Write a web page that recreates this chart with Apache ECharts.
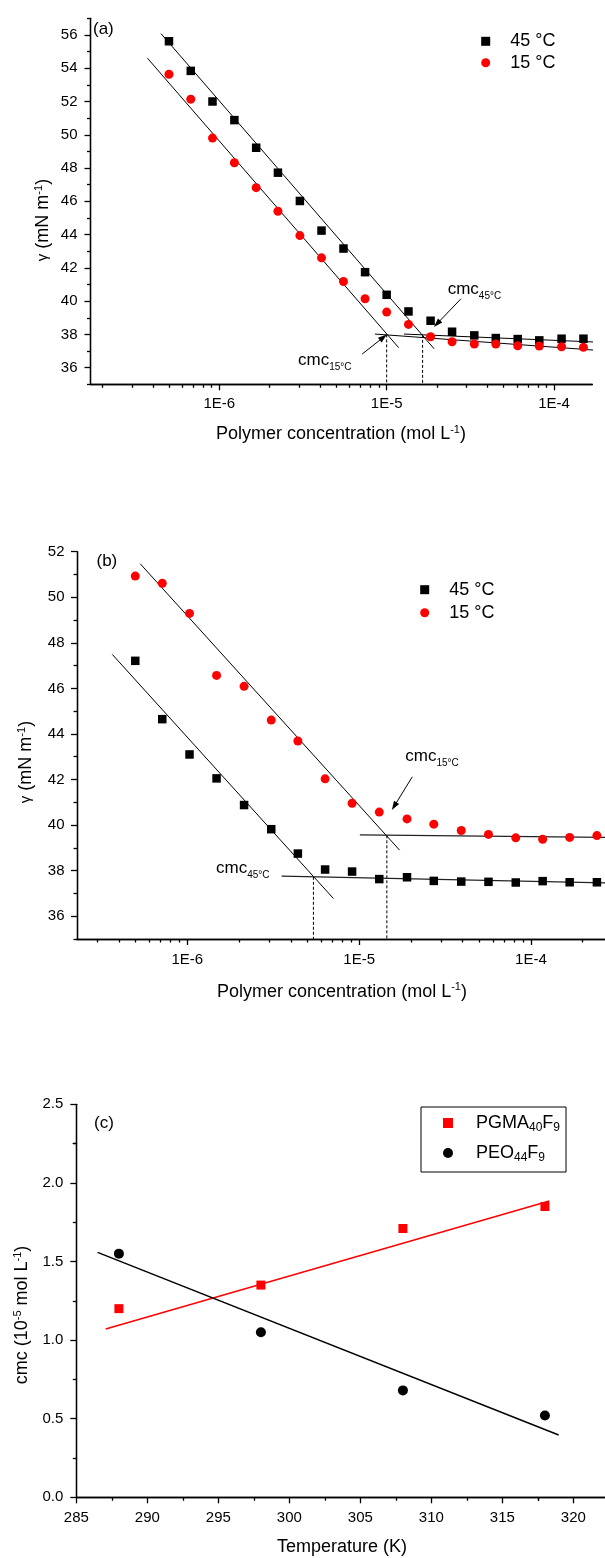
<!DOCTYPE html>
<html>
<head>
<meta charset="utf-8">
<script src="https://cdn.jsdelivr.net/npm/echarts@6/dist/echarts.min.js"></script>
<style>
  html, body { margin: 0; padding: 0; background: #fff; }
  #chart { width: 605px; height: 1558px; }
</style>
</head>
<body>
<div id="chart"></div>
<script>
// ---- (a) surface tension vs polymer concentration ----
const concA = [5.0e-7, 6.75e-7, 9.1e-7, 1.23e-6, 1.66e-6, 2.24e-6, 3.03e-6, 4.08e-6, 5.52e-6, 7.43e-6,
               1.0e-5, 1.35e-5, 1.83e-5, 2.46e-5, 3.34e-5, 4.49e-5, 6.07e-5, 8.17e-5, 1.11e-4, 1.5e-4];
const gamma45A = [55.62, 53.84, 52.0, 50.88, 49.22, 47.72, 46.02, 44.24, 43.16, 41.74,
                  40.38, 39.38, 38.82, 38.16, 37.94, 37.78, 37.72, 37.64, 37.74, 37.74];
const gamma15A = [53.64, 52.14, 49.8, 48.32, 46.82, 45.4, 43.94, 42.6, 41.18, 40.14,
                  39.34, 38.6, 37.86, 37.56, 37.42, 37.42, 37.32, 37.3, 37.26, 37.22];
// straight-line fits: [[conc, gamma], [conc, gamma]]
const fitSteep45A = [[4.48e-7, 56.08], [1.92e-5, 37.14]];
const fitSteep15A = [[3.72e-7, 54.6], [1.18e-5, 37.2]];
const fitFlat45A = [[1.27e-5, 38.02], [1.77e-4, 37.54]];
const fitFlat15A = [[8.51e-6, 38.02], [1.82e-4, 37.04]];
// cmc read-outs: [conc, gamma at the break]
const cmc15A = [1.0e-5, 38.0];
const cmc45A = [1.64e-5, 37.97];

// ---- (b) ----
const concB = [4.98e-7, 7.15e-7, 1.03e-6, 1.48e-6, 2.14e-6, 3.08e-6, 4.4e-6, 6.34e-6, 9.1e-6,
               1.31e-5, 1.9e-5, 2.72e-5, 3.93e-5, 5.66e-5, 8.16e-5, 1.17e-4, 1.68e-4, 2.42e-4];
const gamma45B = [47.21, 44.65, 43.1, 42.05, 40.88, 39.82, 38.75, 38.05, 37.96,
                  37.63, 37.71, 37.55, 37.52, 37.51, 37.48, 37.54, 37.49, 37.49];
const gamma15B = [50.93, 50.61, 49.29, 46.57, 46.09, 44.61, 43.69, 42.03, 40.96,
                  40.57, 40.27, 40.04, 39.76, 39.59, 39.44, 39.38, 39.46, 39.54];
const fitSteep15B = [[5.32e-7, 51.47], [1.72e-5, 38.9]];
const fitSteep45B = [[3.66e-7, 47.49], [7.08e-6, 36.78]];
const fitFlat15B = [[1.01e-5, 39.57], [2.7e-4, 39.46]];
const fitFlat45B = [[3.54e-6, 37.76], [2.7e-4, 37.46]];
const cmc45B = [5.42e-6, 37.73];
const cmc15B = [1.45e-5, 39.55];

// ---- (c) cmc vs temperature ----
const tempC = [288, 298, 308, 318];
const cmcPGMA = [1.20, 1.35, 1.71, 1.85];
const cmcPEO = [1.55, 1.05, 0.68, 0.52];
const fitPGMA = [[287.07, 1.071], [318.31, 1.885]];
const fitPEO = [[286.5, 1.558], [318.97, 0.396]];

// ---- tick labels ----
const decadeExps = [-6, -5, -4];            // 1E-6, 1E-5, 1E-4
const yTicksA = [36, 38, 40, 42, 44, 46, 48, 50, 52, 54, 56];
const yTicksB = [36, 38, 40, 42, 44, 46, 48, 50, 52];
const xTicksC = [285, 290, 295, 300, 305, 310, 315, 320];
const yTicksC = [0, 0.5, 1.0, 1.5, 2.0, 2.5];

const FONT = '"Liberation Sans", Arial, Helvetica, sans-serif';
const lg = Math.log10;

// axis extents (log10 of concentration on panels a and b)
const xRangeA = [-6.77, -3.771];
const xRangeB = [-6.642, -3.569];

function logMinor(lo, hi) {
  const out = [];
  for (let d = -8; d <= -3; d++) {
    for (let k = 2; k <= 9; k++) {
      const v = d + Math.log10(k);
      if (v >= lo && v <= hi) out.push(v);
    }
  }
  return out;
}
function between(list, step) {
  const out = [];
  for (let i = 0; i < list.length; i++) {
    out.push(list[i] - step);
  }
  out.push(list[list.length - 1] + step);
  return out;
}

const axisLineStyle = { color: '#000', width: 1.3 };
const labelStyle = { color: '#000', fontSize: 15, fontFamily: FONT };

function axisPair(kind, grid, min, max, majors, minors, fmt, margin) {
  const pos = kind === 'x' ? 'bottom' : 'left';
  const major = {
    type: 'value', gridIndex: grid, position: pos, min: min, max: max,
    axisLine: { show: true, onZero: false, lineStyle: axisLineStyle },
    axisTick: { show: true, inside: false, length: 6, customValues: majors, lineStyle: axisLineStyle },
    axisLabel: Object.assign({ show: true, customValues: majors, formatter: fmt, margin: margin }, labelStyle),
    splitLine: { show: false }, minorTick: { show: false }
  };
  const minor = {
    type: 'value', gridIndex: grid, position: pos, min: min, max: max,
    axisLine: { show: true, onZero: false, lineStyle: axisLineStyle },
    axisTick: { show: true, inside: false, length: 3.5, customValues: minors, lineStyle: axisLineStyle },
    axisLabel: { show: false },
    splitLine: { show: false }, minorTick: { show: false }
  };
  return [major, minor];
}

const fmtDecade = v => '1E' + Math.round(v);
const fmtInt = v => String(Math.round(v));
const fmtOne = v => v.toFixed(1);

const xAxes = [].concat(
  axisPair('x', 0, xRangeA[0], xRangeA[1], decadeExps, logMinor(xRangeA[0], xRangeA[1]), fmtDecade, 12),
  axisPair('x', 1, xRangeB[0], xRangeB[1], decadeExps, logMinor(xRangeB[0], xRangeB[1]), fmtDecade, 13),
  axisPair('x', 2, 285, 322.23, xTicksC, between(xTicksC, -2.5).filter(v => v > 285 && v < 322.2), fmtInt, 13)
);
const yAxes = [].concat(
  axisPair('y', 0, 35, 57, yTicksA, between(yTicksA, 1), fmtInt, 13),
  axisPair('y', 1, 35, 52, yTicksB, between(yTicksB, 1).filter(v => v <= 52), fmtInt, 12.5),
  axisPair('y', 2, 0, 2.5, yTicksC, between(yTicksC, -0.25).filter(v => v > 0 && v < 2.5), fmtOne, 13)
);

function logPts(pts) { return pts.map(p => [lg(p[0]), p[1]]); }
function fitLine(grid, pts, color, width, isLog) {
  return {
    type: 'line', xAxisIndex: grid * 2, yAxisIndex: grid * 2,
    data: isLog ? logPts(pts) : pts, symbol: 'none', clip: false, silent: true, z: 1,
    lineStyle: { color: color, width: width }
  };
}
function dropLine(grid, cmc, yMin) {
  return {
    type: 'line', xAxisIndex: grid * 2, yAxisIndex: grid * 2,
    data: [[lg(cmc[0]), cmc[1]], [lg(cmc[0]), yMin]], symbol: 'none', silent: true, z: 1,
    lineStyle: { color: '#000', width: 1, type: [3, 2] }
  };
}
function arrows(list) {
  return {
    silent: true, symbol: ['none', 'triangle'], symbolSize: [6, 9],
    label: { show: false },
    lineStyle: { color: '#000', width: 1, type: 'solid', opacity: 1 },
    itemStyle: { color: '#000', opacity: 1 },
    data: list.map(a => [{ coord: [lg(a[0][0]), a[0][1]] }, { coord: [lg(a[1][0]), a[1][1]] }])
  };
}

const squareStyle = { color: '#000', opacity: 1 };
const circleStyle = { color: '#ff0000', opacity: 1 };

const series = [
  // (a)
  fitLine(0, fitSteep45A, '#000', 1, true),
  fitLine(0, fitSteep15A, '#000', 1, true),
  fitLine(0, fitFlat45A, '#000', 1, true),
  fitLine(0, fitFlat15A, '#000', 1, true),
  dropLine(0, cmc15A, 35),
  dropLine(0, cmc45A, 35),
  {
    name: '45 °C', type: 'scatter', xAxisIndex: 0, yAxisIndex: 0, symbol: 'rect', symbolSize: 8.5,
    itemStyle: squareStyle, z: 3,
    data: concA.map((c, i) => [lg(c), gamma45A[i]]),
    markLine: arrows([
      [[2.78e-5, 40.14], [2.0e-5, 38.64]],
      [[7.14e-6, 36.82], [9.55e-6, 37.82]]
    ])
  },
  {
    name: '15 °C', type: 'scatter', xAxisIndex: 0, yAxisIndex: 0, symbol: 'circle', symbolSize: 9,
    itemStyle: circleStyle, z: 3,
    data: concA.map((c, i) => [lg(c), gamma15A[i]])
  },
  // (b)
  fitLine(1, fitSteep15B, '#000', 1, true),
  fitLine(1, fitSteep45B, '#000', 1, true),
  fitLine(1, fitFlat15B, '#222', 1.2, true),
  fitLine(1, fitFlat45B, '#222', 1.2, true),
  dropLine(1, cmc45B, 35),
  dropLine(1, cmc15B, 35),
  {
    name: '45 °C', type: 'scatter', xAxisIndex: 2, yAxisIndex: 2, symbol: 'rect', symbolSize: 8.5,
    itemStyle: squareStyle, z: 3,
    data: concB.map((c, i) => [lg(c), gamma45B[i]]),
    markLine: arrows([
      [[2.04e-5, 42.12], [1.6e-5, 40.83]]
    ])
  },
  {
    name: '15 °C', type: 'scatter', xAxisIndex: 2, yAxisIndex: 2, symbol: 'circle', symbolSize: 9,
    itemStyle: circleStyle, z: 3,
    data: concB.map((c, i) => [lg(c), gamma15B[i]])
  },
  // (c)
  fitLine(2, fitPGMA, '#ff0000', 1.5, false),
  fitLine(2, fitPEO, '#000', 1.5, false),
  {
    name: 'PGMA40F9', type: 'scatter', xAxisIndex: 4, yAxisIndex: 4, symbol: 'rect', symbolSize: 9,
    itemStyle: { color: '#ff0000', opacity: 1 }, z: 3,
    data: tempC.map((t, i) => [t, cmcPGMA[i]])
  },
  {
    name: 'PEO44F9', type: 'scatter', xAxisIndex: 4, yAxisIndex: 4, symbol: 'circle', symbolSize: 10,
    itemStyle: { color: '#000', opacity: 1 }, z: 3,
    data: tempC.map((t, i) => [t, cmcPEO[i]])
  }
];

const subRich = {
  m: { fontSize: 18, fontFamily: FONT, color: '#000', lineHeight: 22 },
  s: { fontSize: 12, fontFamily: FONT, color: '#000', lineHeight: 6, verticalAlign: 'bottom' }
};
const legendNames = {
  'PGMA40F9': '{m|PGMA}{s|40}{m|F}{s|9}',
  'PEO44F9': '{m|PEO}{s|44}{m|F}{s|9}'
};

const legends = [
  {
    orient: 'vertical', left: 481.2, top: 31.3, padding: 0, itemGap: 1.4,
    itemWidth: 9, itemHeight: 9, selectedMode: false,
    data: ['45 °C', '15 °C'],
    textStyle: { color: '#000', fontSize: 18, fontFamily: FONT, lineHeight: 20, padding: [0, 0, 0, 15] }
  },
  {
    orient: 'vertical', left: 420.2, top: 579.7, padding: 0, itemGap: 3,
    itemWidth: 9, itemHeight: 9, selectedMode: false,
    data: ['45 °C', '15 °C'],
    textStyle: { color: '#000', fontSize: 18, fontFamily: FONT, lineHeight: 20, padding: [0, 0, 0, 15] }
  },
  {
    orient: 'vertical', left: 421, top: 1107, padding: [5, 6, 8, 22], itemGap: 8,
    itemWidth: 10, itemHeight: 10, selectedMode: false,
    borderColor: '#000', borderWidth: 1,
    data: ['PGMA40F9', 'PEO44F9'],
    formatter: n => legendNames[n],
    textStyle: { color: '#000', fontSize: 18, fontFamily: FONT, lineHeight: 22, padding: [0, 0, 0, 18], rich: subRich }
  }
];

const supRich = {
  sp: { fontSize: 11, fontFamily: FONT, fill: '#000', lineHeight: 12, verticalAlign: 'top' },
  g: { fontSize: 15, fontFamily: FONT, fill: '#000', lineHeight: 20 }
};
function title(x, y, text, rotate) {
  return {
    type: 'text', x: x, y: y, rotation: rotate ? Math.PI / 2 : 0, silent: true,
    style: {
      text: text, fontSize: 18, fontFamily: FONT, fill: '#000', lineHeight: 20,
      align: 'center', verticalAlign: 'middle', rich: supRich
    }
  };
}
const cmcRich = {
  m: { fontSize: 17, fontFamily: FONT, fill: '#000', lineHeight: 24 },
  s: { fontSize: 10, fontFamily: FONT, fill: '#000', lineHeight: 6, verticalAlign: 'bottom' }
};
function cmcText(x, y, sub) {
  return {
    type: 'text', x: x, y: y, silent: true,
    style: { text: '{m|cmc}{s|' + sub + '}', align: 'left', verticalAlign: 'middle', rich: cmcRich }
  };
}
function panelTag(x, y, t) {
  return {
    type: 'text', x: x, y: y, silent: true,
    style: { text: t, fontSize: 17, fontFamily: FONT, fill: '#000', align: 'left', verticalAlign: 'middle' }
  };
}

const graphics = [
  panelTag(93, 29, '(a)'),
  panelTag(96.5, 561.7, '(b)'),
  panelTag(94, 1123.3, '(c)'),
  title(341, 434, 'Polymer concentration (mol L{sp|-1})', false),
  title(342, 991.7, 'Polymer concentration (mol L{sp|-1})', false),
  title(342, 1547.3, 'Temperature (K)', false),
  title(43.3, 220, '{g|γ} (mN m{sp|-1})', true),
  title(26, 762, '{g|γ} (mN m{sp|-1})', true),
  title(22.3, 1315, 'cmc (10{sp|-5} mol L{sp|-1})', true),
  cmcText(447.7, 289, '45°C'),
  cmcText(298, 360, '15°C'),
  cmcText(405.3, 756.5, '15°C'),
  cmcText(216, 868, '45°C')
];

const chart = echarts.init(document.getElementById('chart'), null, { renderer: 'canvas' });
chart.setOption({
  animation: false,
  backgroundColor: '#fff',
  textStyle: { fontFamily: FONT },
  grid: [
    { left: 90.5, top: 18.3, width: 501.8, height: 366 },
    { left: 77, top: 551.7, width: 528, height: 387.3 },
    { left: 76.3, top: 1104.3, width: 528.7, height: 393 }
  ],
  xAxis: xAxes,
  yAxis: yAxes,
  legend: legends,
  series: series,
  graphic: graphics
});
</script>
</body>
</html>
